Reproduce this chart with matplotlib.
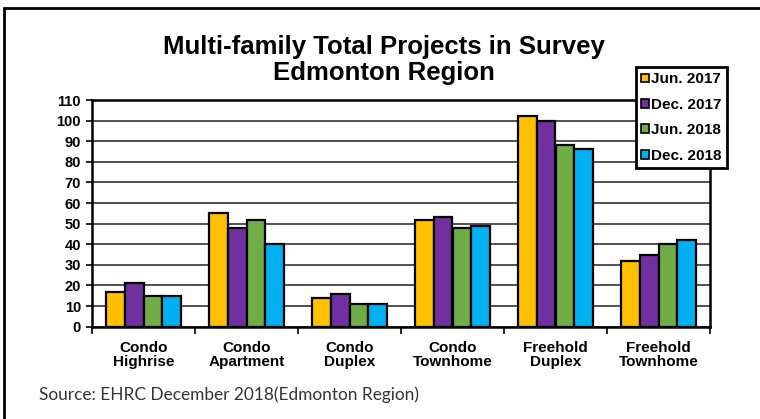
import matplotlib.pyplot as plt
import numpy as np
from matplotlib.patches import Rectangle

categories = ["Condo\nHighrise", "Condo\nApartment", "Condo\nDuplex",
              "Condo\nTownhome", "Freehold\nDuplex", "Freehold\nTownhome"]
series = ["Jun. 2017", "Dec. 2017", "Jun. 2018", "Dec. 2018"]
jun_2017 = [17, 55, 14, 52, 102, 32]
dec_2017 = [21, 48, 16, 53, 100, 35]
jun_2018 = [15, 52, 11, 48, 88, 40]
dec_2018 = [15, 40, 11, 49, 86, 42]
colors = ["#FFC000", "#7030A0", "#70AD47", "#00B0F0"]

plt.rcParams['font.family'] = ['Liberation Sans', 'DejaVu Sans']

fig = plt.figure(figsize=(7.6, 4.19), dpi=100)
ax = fig.add_axes([92/760, 1-326.7/419, (710-92)/760, (326.7-100)/419])

x = np.arange(len(categories))
w = 0.182
values = [jun_2017, dec_2017, jun_2018, dec_2018]
for i, (vals, lab, c) in enumerate(zip(values, series, colors)):
    ax.bar(x + (i - 1.5)*w, vals, w, color=c, edgecolor="black",
           linewidth=1.6, label=lab, zorder=3)

ax.set_xlim(-0.5, len(categories) - 0.5)
ax.set_ylim(0, 110)
ax.set_yticks(range(0, 111, 10))
ax.yaxis.grid(True, color="#222222", linewidth=1.1, zorder=0)
ax.set_axisbelow(True)
for s in ax.spines.values():
    s.set_linewidth(1.8)

ax.set_xticks(x)
ax.set_xticklabels(categories, fontsize=11, fontweight="bold", linespacing=1.05)
ax.set_xticks(np.arange(-0.5, len(categories)), minor=True)
ax.tick_params(axis="x", which="major", length=0, pad=10)
ax.tick_params(axis="x", which="minor", length=5, width=1.2, direction="out")
ax.tick_params(axis="y", length=4, width=1.2, direction="out", labelsize=10.5, pad=4)
for t in ax.get_yticklabels():
    t.set_fontweight("bold")

leg = fig.legend(loc="upper left", bbox_to_anchor=(636/760, 1-67/419),
                 prop={"weight": "bold", "size": 11}, frameon=True, fancybox=False,
                 edgecolor="black", framealpha=1, handlelength=0.5, handleheight=0.5,
                 handletextpad=0.15, labelspacing=0.75, borderpad=0.35,
                 borderaxespad=0)
leg.get_frame().set_linewidth(2)
for h in leg.legend_handles:
    h.set_linewidth(1.2)

fig.text(0.505, 1-60/419, "Multi-family Total Projects in Survey\nEdmonton Region",
         ha="center", va="center", fontsize=18.5, fontweight="bold", linespacing=1.1)

fig.text(39/760, 1-395/419, "Source: EHRC December 2018(Edmonton Region)",
         ha="left", va="center", fontsize=12.4, color="#333333",
         family=["Lato", "DejaVu Sans"])

border = Rectangle((4/760, -0.1), 1.2, 1 - 8/419 + 0.1, transform=fig.transFigure,
                   fill=False, edgecolor="black", linewidth=2, clip_on=False)
fig.add_artist(border)

fig.savefig("out.png", dpi=100)
